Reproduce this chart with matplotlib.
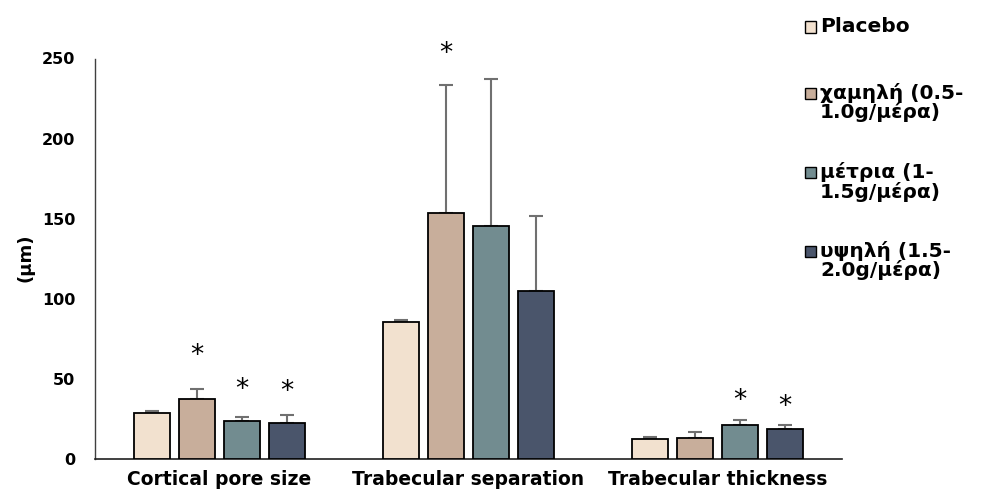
import matplotlib
matplotlib.use("Agg")
import matplotlib.pyplot as plt
from matplotlib.patches import Rectangle
import numpy as np

categories = ["Cortical pore size", "Trabecular separation", "Trabecular thickness"]
series_names = ["Placebo", "χαμηλή (0.5-\n1.0g/μέρα)", "μέτρια (1-\n1.5g/μέρα)", "υψηλή (1.5-\n2.0g/μέρα)"]
placebo = [29, 85.5, 12.4]
low = [37.3, 153.8, 12.9]
medium = [23.6, 145.7, 21.1]
high = [22.6, 104.7, 18.5]
placebo_err = [1.0, 1.0, 1.1]
low_err = [6.7, 79.4, 3.7]
medium_err = [2.7, 91.3, 3.4]
high_err = [4.9, 47.0, 2.6]
# significance stars: (category index, series index, star height)
stars = [(0, 1, 67), (0, 2, 46), (0, 3, 45), (1, 1, 256), (2, 2, 39.5), (2, 3, 35.5)]
yticks = [0, 50, 100, 150, 200, 250]

colors = ["#F2E1CF", "#C8AE9B", "#728C90", "#4A556B"]
values = [placebo, low, medium, high]
errs = [placebo_err, low_err, medium_err, high_err]

plt.rcParams['font.family'] = ['DejaVu Sans']

W, H = 991, 500
fig = plt.figure(figsize=(W / 100, H / 100), dpi=100)
ax = fig.add_axes([95 / W, 1 - 459 / H, (842 - 95) / W, (459 - 58.5) / H])

x = np.arange(len(categories))
width = 0.1446
step = 0.1807
offsets = [(-1.5 + i) * step for i in range(4)]
for i in range(4):
    ax.bar(x + offsets[i], values[i], width, color=colors[i], edgecolor="black",
           linewidth=1.3, zorder=3)
    ax.errorbar(x + offsets[i], values[i], yerr=[np.zeros(3), errs[i]], fmt="none",
                ecolor="#707070", elinewidth=1.5, capsize=5, capthick=1.5, zorder=2)

for ci, si, h in stars:
    ax.text(x[ci] + offsets[si], h - 3, "*", ha="center", va="center", fontsize=19,
            clip_on=False)

ax.set_xlim(-0.5, 2.5)
ax.set_ylim(0, 250)
ax.set_yticks(yticks)
ax.set_yticklabels([str(v) for v in yticks], fontsize=11.5, fontweight="bold")
ax.set_xticks(x)
ax.set_xticklabels(categories, fontsize=13.5, fontweight="bold")
ax.tick_params(axis="y", length=0, pad=14)
ax.tick_params(axis="x", length=0, pad=8)
for s in ["top", "right"]:
    ax.spines[s].set_visible(False)
ax.spines["left"].set_color("#404040")
ax.spines["bottom"].set_color("#202020")
ax.spines["left"].set_linewidth(1.0)
ax.spines["bottom"].set_linewidth(1.2)
fig.text(25 / W, 1 - 258 / H, "(μm)", rotation=90, ha="center", va="center",
         fontsize=13, fontweight="bold")

# legend (squares aligned with the first line of each label)
leg_first_line_y = [27, 93, 172, 251]
line_gap = 19.5
for i, name in enumerate(series_names):
    yc = leg_first_line_y[i]
    fig.add_artist(Rectangle((805 / W, 1 - (yc + 5.5) / H), 11 / W, 11 / H,
                             transform=fig.transFigure, facecolor=colors[i],
                             edgecolor="black", linewidth=1.0))
    for j, line in enumerate(name.split("\n")):
        fig.text(820 / W, 1 - (yc + j * line_gap) / H, line, ha="left", va="center",
                 fontsize=14.5, fontweight="bold")

fig.savefig("out.png", dpi=100)
